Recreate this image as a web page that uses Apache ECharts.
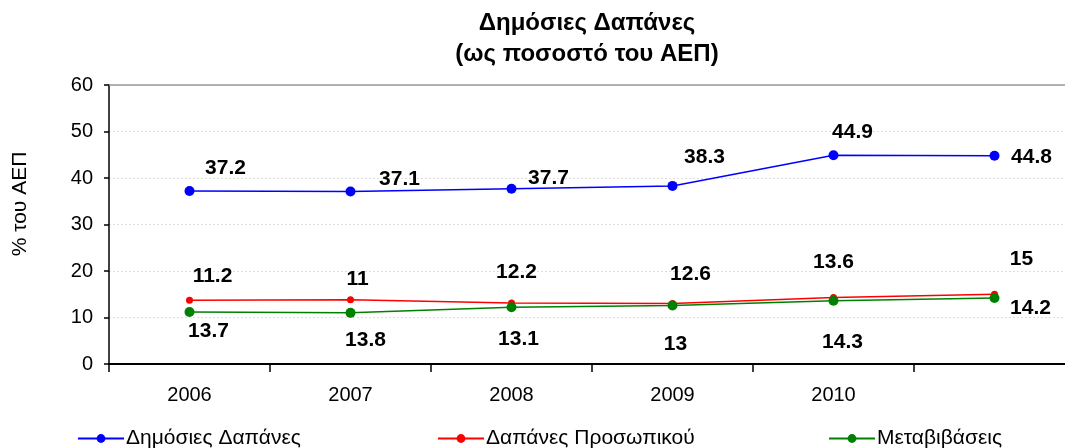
<!DOCTYPE html>
<html>
<head>
<meta charset="utf-8">
<script src="https://cdn.jsdelivr.net/npm/echarts@6/dist/echarts.min.js"></script>
<style>html,body{margin:0;padding:0;background:#fff;}#c{width:1065px;height:448px;}</style>
</head>
<body>
<div id="c"></div>
<script>
// ---- data ----
var categories = ['2006', '2007', '2008', '2009', '2010', ''];
var publicSpending = [37.2, 37.1, 37.7, 38.3, 44.9, 44.8];
var personnelCosts = [13.7, 13.8, 13.1, 13.0, 14.3, 15.0];
var transfers = [11.2, 11.0, 12.2, 12.6, 13.6, 14.2];
var seriesNames = ['Δημόσιες Δαπάνες', 'Δαπάνες Προσωπικού', 'Μεταβιβάσεις'];
var yTicks = [0, 10, 20, 30, 40, 50, 60];
var titleLines = ['Δημόσιες Δαπάνες', '(ως ποσοστό του ΑΕΠ)'];
var yAxisName = '% του ΑΕΠ';

// ---- label offsets (style only) ----
var blueOffsets = [[36, -23], [49, -12], [37, -10], [32, -29], [19, -23], [37, 2]];
var redOffsets = [[19, 31], [15, 40], [7, 36], [3, 41], [9, 45], [27, -35]];
var greenOffsets = [[23, -36], [7, -34], [5, -35], [18, -31], [0, -39], [36, 10]];

var FONT = 'Liberation Sans, Arial, sans-serif';

function withLabels(values, offsets) {
  return values.map(function (v, i) {
    return { value: v, label: { offset: offsets[i] } };
  });
}

var labelBase = {
  show: true,
  position: 'inside',
  align: 'center',
  verticalAlign: 'middle',
  color: '#000',
  fontFamily: FONT,
  fontWeight: 'bold',
  fontSize: 21
};

var chart = echarts.init(document.getElementById('c'), null, { renderer: 'canvas' });

var legendCommon = {
  top: 428,
  itemWidth: 46,
  itemHeight: 11,
  itemGap: 0,
  textStyle: { fontFamily: FONT, fontSize: 21, color: '#000', padding: [0, 0, 0, -3] },
  selectedMode: false,
  padding: 0
};

chart.setOption({
  animation: false,
  backgroundColor: '#fff',
  graphic: [
    {
      type: 'text', x: 587, y: 8,
      style: {
        text: titleLines.join('\n'),
        fontFamily: FONT, fontWeight: 'bold', fontSize: 24, lineHeight: 31,
        fill: '#000', align: 'center', verticalAlign: 'top'
      }
    },
    {
      type: 'text', x: 20, y: 204, rotation: Math.PI / 2,
      style: {
        text: yAxisName,
        fontFamily: FONT, fontSize: 21,
        fill: '#000', align: 'center', verticalAlign: 'middle'
      }
    }
  ],
  legend: [
    Object.assign({}, legendCommon, { data: [seriesNames[0]], left: 77 }),
    Object.assign({}, legendCommon, { data: [seriesNames[1]], left: 437 }),
    Object.assign({}, legendCommon, { data: [seriesNames[2]], left: 828 })
  ],
  grid: { left: 109, right: -10, top: 85, bottom: 84, containLabel: false, outerBoundsMode: 'none' },
  xAxis: {
    type: 'category',
    data: categories,
    boundaryGap: true,
    axisLine: { show: true, lineStyle: { color: '#000', width: 2 } },
    axisTick: { show: true, interval: 0, alignWithLabel: false, length: 8, lineStyle: { color: '#000', width: 1.5 } },
    axisLabel: { interval: 0, margin: 21, color: '#000', fontFamily: FONT, fontSize: 20 },
    splitLine: { show: false }
  },
  yAxis: {
    type: 'value',
    min: yTicks[0],
    max: yTicks[yTicks.length - 1],
    interval: 10,
    axisLine: { show: true, lineStyle: { color: '#000', width: 1.5 } },
    axisTick: { show: true, length: 5, lineStyle: { color: '#000', width: 1.5 } },
    axisLabel: { margin: 16, color: '#000', fontFamily: FONT, fontSize: 20 },
    splitLine: {
      show: true,
      lineStyle: { color: '#dedede', width: 1, type: [2, 2] }
    }
  },
  series: [
    {
      name: seriesNames[0], type: 'line',
      data: withLabels(publicSpending, blueOffsets),
      symbol: 'circle', symbolSize: 10,
      itemStyle: { color: '#0000ff' },
      lineStyle: { color: '#0000ff', width: 1.5 },
      label: labelBase,
      markLine: {
        silent: true, symbol: 'none', animation: false,
        label: { show: false },
        lineStyle: { color: '#999', width: 1.5, type: 'solid' },
        data: [{ yAxis: yTicks[yTicks.length - 1] }]
      },
      z: 3
    },
    {
      name: seriesNames[1], type: 'line',
      data: withLabels(personnelCosts, redOffsets),
      symbol: 'circle', symbolSize: 7,
      itemStyle: { color: '#ff0000' },
      lineStyle: { color: '#ff0000', width: 1.5 },
      label: labelBase,
      z: 2
    },
    {
      name: seriesNames[2], type: 'line',
      data: withLabels(transfers, greenOffsets),
      symbol: 'circle', symbolSize: 10,
      itemStyle: { color: '#008000' },
      lineStyle: { color: '#008000', width: 1.5 },
      label: labelBase,
      z: 3
    }
  ]
});
</script>
</body>
</html>
